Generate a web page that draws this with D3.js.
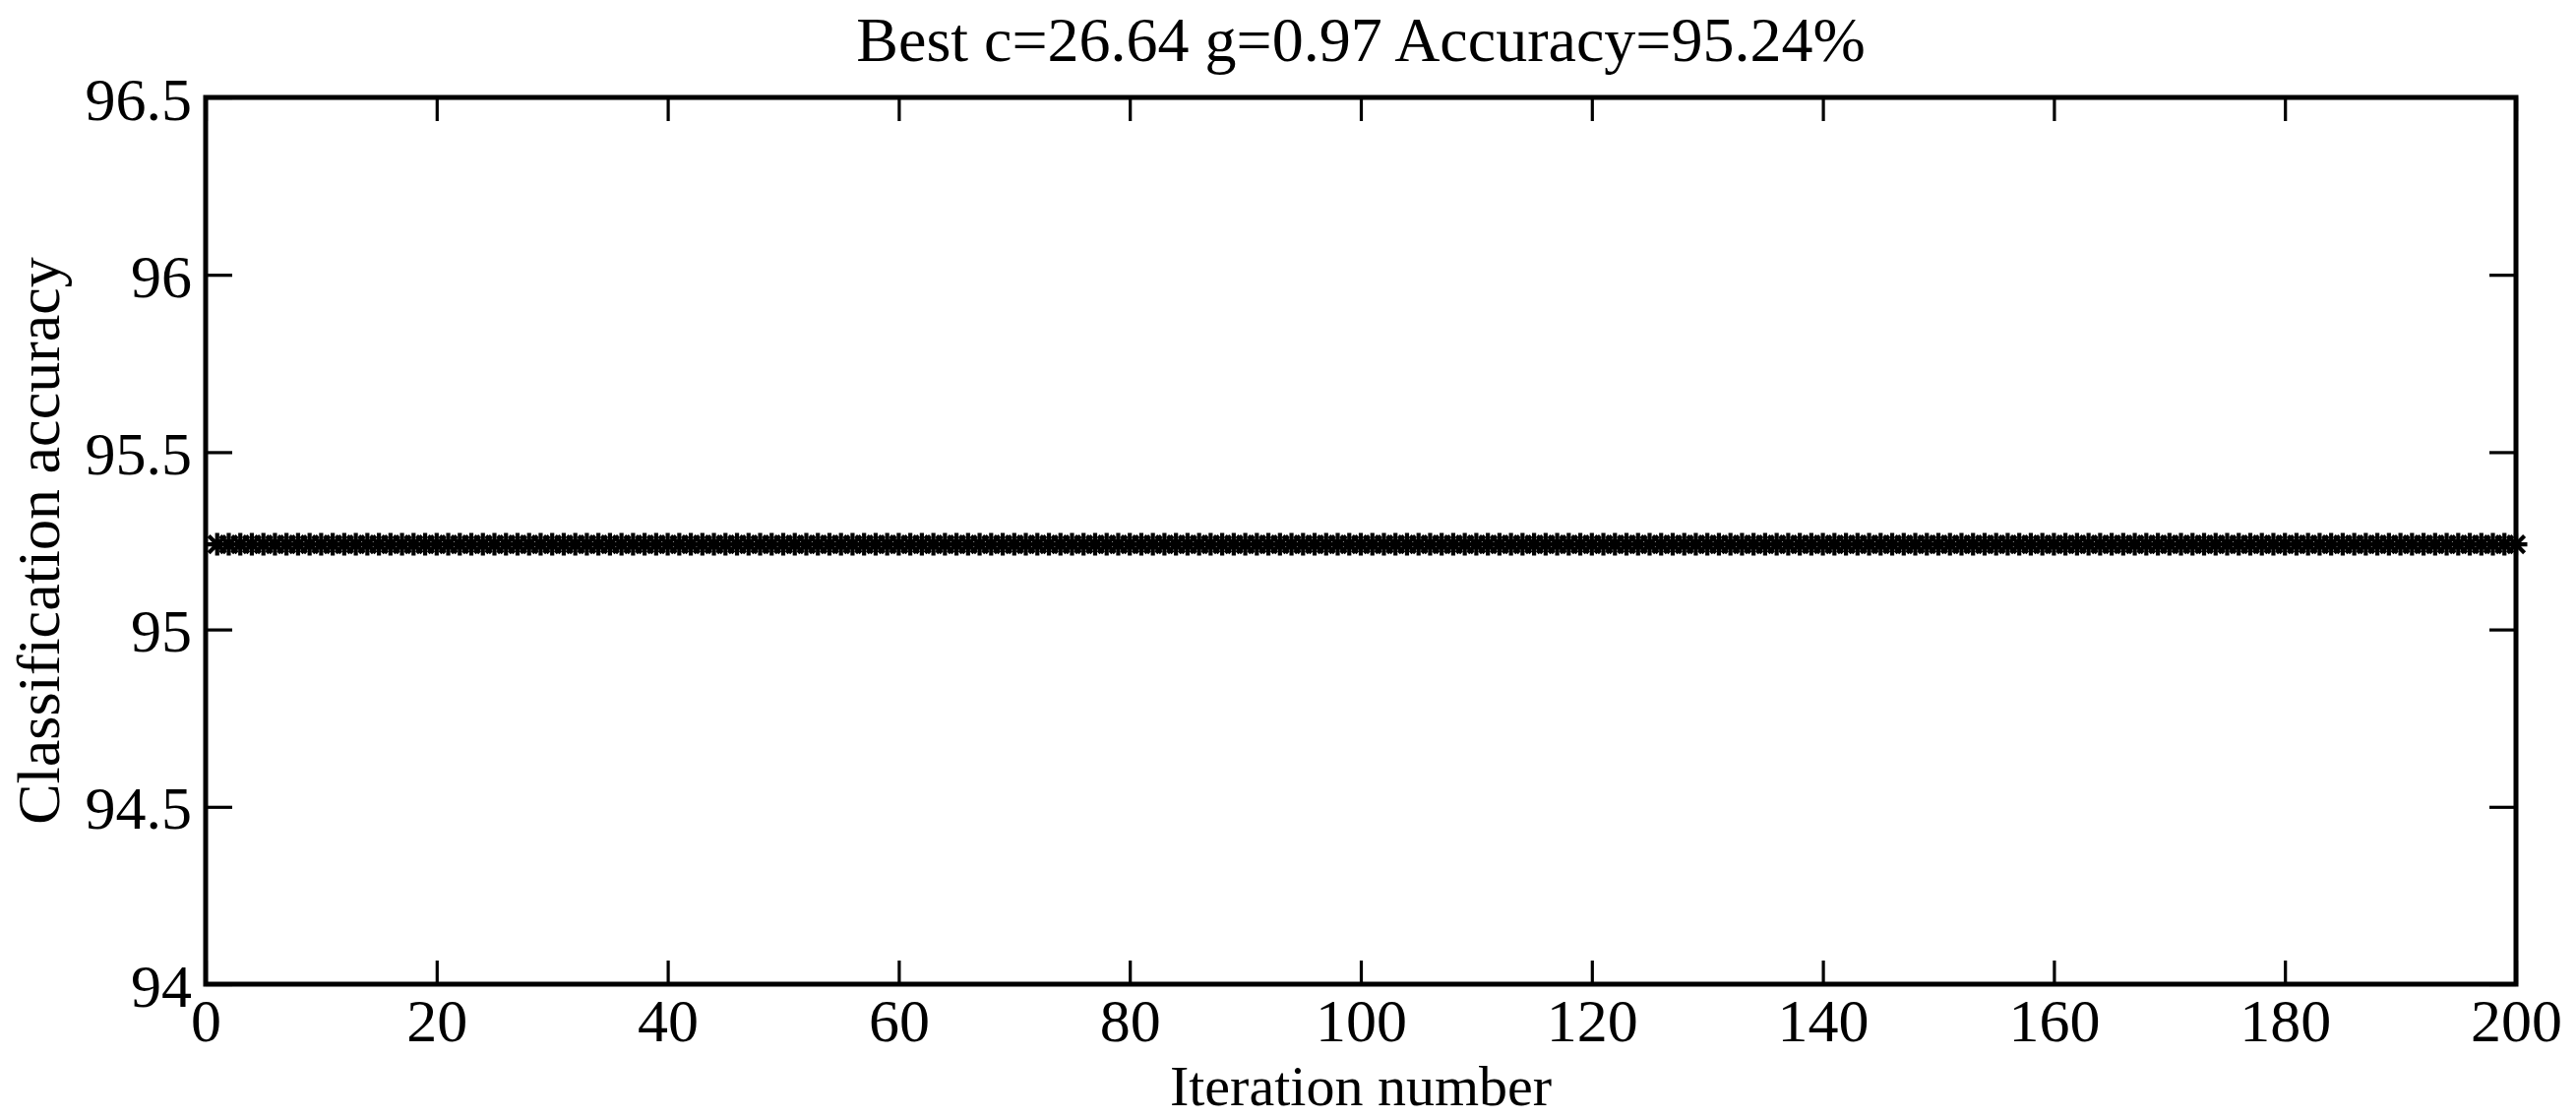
<!DOCTYPE html>
<html>
<head>
<meta charset="utf-8">
<script src="https://cdn.jsdelivr.net/npm/d3@7"></script>
<style>
  html, body { margin: 0; padding: 0; background: #ffffff; }
  svg { display: block; }
  text { font-family: "Liberation Serif", "Times New Roman", serif; fill: #000; }
</style>
</head>
<body>
<svg id="chart" width="2618" height="1137"></svg>
<script>
const titleText = "Best c=26.64 g=0.97 Accuracy=95.24%";
const xLabel = "Iteration number";
const yLabel = "Classification accuracy";

const xTicks = [0, 20, 40, 60, 80, 100, 120, 140, 160, 180, 200];
const yTicks = [94, 94.5, 95, 95.5, 96, 96.5];
const yTickLabels = ["94", "94.5", "95", "95.5", "96", "96.5"];

const iterations = [
  1,2,3,4,5,6,7,8,9,10,11,12,13,14,15,16,17,18,19,20,
  21,22,23,24,25,26,27,28,29,30,31,32,33,34,35,36,37,38,39,40,
  41,42,43,44,45,46,47,48,49,50,51,52,53,54,55,56,57,58,59,60,
  61,62,63,64,65,66,67,68,69,70,71,72,73,74,75,76,77,78,79,80,
  81,82,83,84,85,86,87,88,89,90,91,92,93,94,95,96,97,98,99,100,
  101,102,103,104,105,106,107,108,109,110,111,112,113,114,115,116,117,118,119,120,
  121,122,123,124,125,126,127,128,129,130,131,132,133,134,135,136,137,138,139,140,
  141,142,143,144,145,146,147,148,149,150,151,152,153,154,155,156,157,158,159,160,
  161,162,163,164,165,166,167,168,169,170,171,172,173,174,175,176,177,178,179,180,
  181,182,183,184,185,186,187,188,189,190,191,192,193,194,195,196,197,198,199,200
];
const accuracy = [
  95.24,95.24,95.24,95.24,95.24,95.24,95.24,95.24,95.24,95.24,95.24,95.24,95.24,95.24,95.24,95.24,95.24,95.24,95.24,95.24,
  95.24,95.24,95.24,95.24,95.24,95.24,95.24,95.24,95.24,95.24,95.24,95.24,95.24,95.24,95.24,95.24,95.24,95.24,95.24,95.24,
  95.24,95.24,95.24,95.24,95.24,95.24,95.24,95.24,95.24,95.24,95.24,95.24,95.24,95.24,95.24,95.24,95.24,95.24,95.24,95.24,
  95.24,95.24,95.24,95.24,95.24,95.24,95.24,95.24,95.24,95.24,95.24,95.24,95.24,95.24,95.24,95.24,95.24,95.24,95.24,95.24,
  95.24,95.24,95.24,95.24,95.24,95.24,95.24,95.24,95.24,95.24,95.24,95.24,95.24,95.24,95.24,95.24,95.24,95.24,95.24,95.24,
  95.24,95.24,95.24,95.24,95.24,95.24,95.24,95.24,95.24,95.24,95.24,95.24,95.24,95.24,95.24,95.24,95.24,95.24,95.24,95.24,
  95.24,95.24,95.24,95.24,95.24,95.24,95.24,95.24,95.24,95.24,95.24,95.24,95.24,95.24,95.24,95.24,95.24,95.24,95.24,95.24,
  95.24,95.24,95.24,95.24,95.24,95.24,95.24,95.24,95.24,95.24,95.24,95.24,95.24,95.24,95.24,95.24,95.24,95.24,95.24,95.24,
  95.24,95.24,95.24,95.24,95.24,95.24,95.24,95.24,95.24,95.24,95.24,95.24,95.24,95.24,95.24,95.24,95.24,95.24,95.24,95.24,
  95.24,95.24,95.24,95.24,95.24,95.24,95.24,95.24,95.24,95.24,95.24,95.24,95.24,95.24,95.24,95.24,95.24,95.24,95.24,95.24
];

const data = iterations.map((it, i) => ({ x: it, y: accuracy[i] }));

const svg = d3.select("#chart");
const margin = { left: 209, top: 99, right: 2618 - 2557, bottom: 1137 - 1000 };
const W = 2618 - margin.left - margin.right;
const H = 1137 - margin.top - margin.bottom;

const x = d3.scaleLinear().domain([0, 200]).range([0, W]);
const y = d3.scaleLinear().domain([94, 96.5]).range([H, 0]);

const g = svg.append("g").attr("transform", `translate(${margin.left},${margin.top})`);

const fontSize = 62;

// Series line
g.append("path")
  .datum(data)
  .attr("fill", "none")
  .attr("stroke", "#000")
  .attr("stroke-width", 3.5)
  .attr("d", d3.line().x(d => x(d.x)).y(d => y(d.y)));

// Asterisk markers
const r = 11.5;
const r2 = r * 0.75;
const starPath = `M${-r},0L${r},0M0,${-r}L0,${r}M${-r2},${-r2}L${r2},${r2}M${-r2},${r2}L${r2},${-r2}`;
g.append("g")
  .selectAll("path")
  .data(data)
  .join("path")
  .attr("transform", d => `translate(${x(d.x)},${y(d.y)})`)
  .attr("d", starPath)
  .attr("fill", "none")
  .attr("stroke", "#000")
  .attr("stroke-width", 4.2);

// Axes (inward ticks on all sides)
const xAxisB = d3.axisBottom(x).tickValues(xTicks).tickSizeInner(-24).tickSizeOuter(0).tickFormat(d3.format("d"));
const xAxisT = d3.axisTop(x).tickValues(xTicks).tickSizeInner(-24).tickSizeOuter(0).tickFormat("");
const yAxisL = d3.axisLeft(y).tickValues(yTicks).tickSizeInner(-27).tickSizeOuter(0)
  .tickFormat((d, i) => yTickLabels[i]);
const yAxisR = d3.axisRight(y).tickValues(yTicks).tickSizeInner(-27).tickSizeOuter(0).tickFormat("");

function styleAxis(sel) {
  sel.select(".domain").remove();
  sel.selectAll(".tick line").attr("stroke", "#000").attr("stroke-width", 3.2);
  sel.selectAll(".tick text")
    .attr("font-family", "Liberation Serif")
    .attr("font-size", fontSize)
    .attr("fill", "#000");
}

const gxB = g.append("g").attr("transform", `translate(0,${H})`).call(xAxisB).call(styleAxis);
gxB.selectAll(".tick text").attr("dy", null).attr("y", 58);
g.append("g").call(xAxisT).call(styleAxis);
const gyL = g.append("g").call(yAxisL).call(styleAxis);
gyL.selectAll(".tick text").attr("dy", null).attr("y", 22).attr("x", -14);
g.append("g").attr("transform", `translate(${W},0)`).call(yAxisR).call(styleAxis);

// Box
g.append("rect")
  .attr("x", 0).attr("y", 0).attr("width", W).attr("height", H)
  .attr("fill", "none").attr("stroke", "#000").attr("stroke-width", 5);

// Title
svg.append("text")
  .attr("x", margin.left + W / 2)
  .attr("y", 62)
  .attr("text-anchor", "middle")
  .attr("font-size", 64)
  .text(titleText);

// X label
svg.append("text")
  .attr("x", margin.left + W / 2)
  .attr("y", 1123)
  .attr("text-anchor", "middle")
  .attr("font-size", 58)
  .text(xLabel);

// Y label
svg.append("text")
  .attr("transform", `translate(60,${margin.top + H / 2}) rotate(-90)`)
  .attr("text-anchor", "middle")
  .attr("font-size", fontSize)
  .text(yLabel);
</script>
</body>
</html>
